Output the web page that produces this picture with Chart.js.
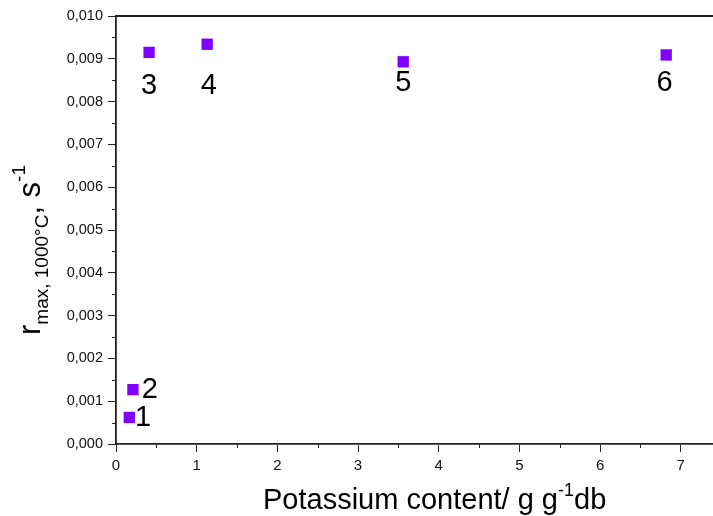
<!DOCTYPE html>
<html>
<head>
<meta charset="utf-8">
<script src="https://cdn.jsdelivr.net/npm/chart.js@4.4.1/dist/chart.umd.min.js"></script>
<style>
  body { margin: 0; background: #fff; }
  #wrap { position: relative; width: 713px; height: 516px; font-family: "Liberation Sans", Arial, sans-serif; overflow: hidden; }
  #chart { position: absolute; left: 0; top: 0; }
  .xtitle { position: absolute; left: 263px; top: 483px; font-size: 29px; color: #000; white-space: nowrap; }
  .xtitle sup { font-size: 18px; vertical-align: 13px; line-height: 0; }
  .ytitle { position: absolute; font-size: 31px; color: #000; white-space: nowrap; }
  .ytitle sub { font-size: 19px; vertical-align: -8px; line-height: 0; }
  .ytitle sup { font-size: 19px; vertical-align: 15px; line-height: 0; }
</style>
</head>
<body>
<div id="wrap">
  <canvas id="chart" width="713" height="516"></canvas>
  <div class="xtitle">Potassium content/ g g<sup>-1</sup>db</div>
  <div class="ytitle" id="ytitle">r<sub>max, 1000°C</sub>, s<sup>-1</sup></div>
</div>
<script>
// sample data
const sampleNames = ["1", "2", "3", "4", "5", "6"];
const potassium = [0.165, 0.21, 0.41, 1.13, 3.56, 6.82];
const rMax = [0.00062, 0.00127, 0.00915, 0.00934, 0.00893, 0.00909];
// where each sample number was written, in data units
const labelX = [0.335, 0.42, 0.41, 1.15, 3.56, 6.80];
const labelY = [0.00061, 0.00126, 0.00836, 0.00836, 0.00843, 0.00843];

const xTicks = [0, 1, 2, 3, 4, 5, 6, 7];
const yTicks = [0, 0.001, 0.002, 0.003, 0.004, 0.005, 0.006, 0.007, 0.008, 0.009, 0.010];

const FONT = "'Liberation Sans', Arial, sans-serif";

// put the rotated y title in place
const yt = document.getElementById("ytitle");
const w = yt.offsetWidth, h = yt.offsetHeight;
yt.style.left = (30 - w / 2) + "px";
yt.style.top = (250 - h / 2) + "px";
yt.style.transform = "rotate(-90deg)";
yt.style.transformOrigin = "50% 50%";

const points = potassium.map((x, i) => ({ x: x, y: rMax[i] }));

// sample numbers, minor ticks and top frame line
const extras = {
  id: "extras",
  afterDraw(chart) {
    const ctx = chart.ctx;
    const xs = chart.scales.x, ys = chart.scales.y;
    const area = chart.chartArea;

    ctx.save();
    ctx.strokeStyle = "#222";
    ctx.lineWidth = 1.8;
    ctx.beginPath();
    ctx.moveTo(area.left, area.top);
    ctx.lineTo(713, area.top);
    ctx.stroke();

    ctx.lineWidth = 1;
    for (let v = 0.5; v <= xs.max; v += 1) {
      const px = Math.round(xs.getPixelForValue(v)) + 0.5;
      ctx.beginPath();
      ctx.moveTo(px, area.bottom);
      ctx.lineTo(px, area.bottom + 4);
      ctx.stroke();
    }
    for (let i = 0; i < yTicks.length - 1; i++) {
      const py = Math.round(ys.getPixelForValue((yTicks[i] + yTicks[i + 1]) / 2)) + 0.5;
      ctx.beginPath();
      ctx.moveTo(area.left, py);
      ctx.lineTo(area.left - 4, py);
      ctx.stroke();
    }

    ctx.fillStyle = "#000";
    ctx.font = "29px " + FONT;
    ctx.textBaseline = "middle";
    ctx.textAlign = "center";
    sampleNames.forEach((name, i) => {
      ctx.fillText(name, xs.getPixelForValue(labelX[i]), ys.getPixelForValue(labelY[i]));
    });
    ctx.restore();
  }
};

new Chart(document.getElementById("chart"), {
  type: "scatter",
  data: {
    datasets: [{
      data: points,
      pointStyle: "rect",
      pointRadius: 8,
      pointBorderWidth: 0,
      backgroundColor: "#8000ff",
      borderColor: "#8000ff"
    }]
  },
  options: {
    responsive: false,
    animation: false,
    layout: { autoPadding: false, padding: { top: 16, right: 0, left: 0, bottom: 0 } },
    plugins: { legend: { display: false }, tooltip: { enabled: false } },
    scales: {
      x: {
        type: "linear",
        min: 0,
        max: 7.4,
        afterFit(s) { s.height = 72; s.paddingRight = 0; },
        afterBuildTicks(s) { s.ticks = xTicks.map(v => ({ value: v })); },
        grid: { display: true, drawOnChartArea: false, color: "#222", tickLength: 8, lineWidth: 1 },
        border: { display: true, color: "#222", width: 1.8 },
        ticks: { color: "#111", font: { family: FONT, size: 15 }, padding: 5, maxRotation: 0,
                 callback: v => String(v) }
      },
      y: {
        type: "linear",
        min: 0,
        max: 0.010,
        afterFit(s) { s.width = 116; },
        afterBuildTicks(s) { s.ticks = yTicks.map(v => ({ value: v })); },
        grid: { display: true, drawOnChartArea: false, color: "#222", tickLength: 8, lineWidth: 1 },
        border: { display: true, color: "#222", width: 1.8 },
        ticks: { color: "#111", font: { family: FONT, size: 14.5 }, padding: 5,
                 callback: v => v.toFixed(3).replace(".", ",") }
      }
    }
  },
  plugins: [extras]
});
</script>
</body>
</html>
